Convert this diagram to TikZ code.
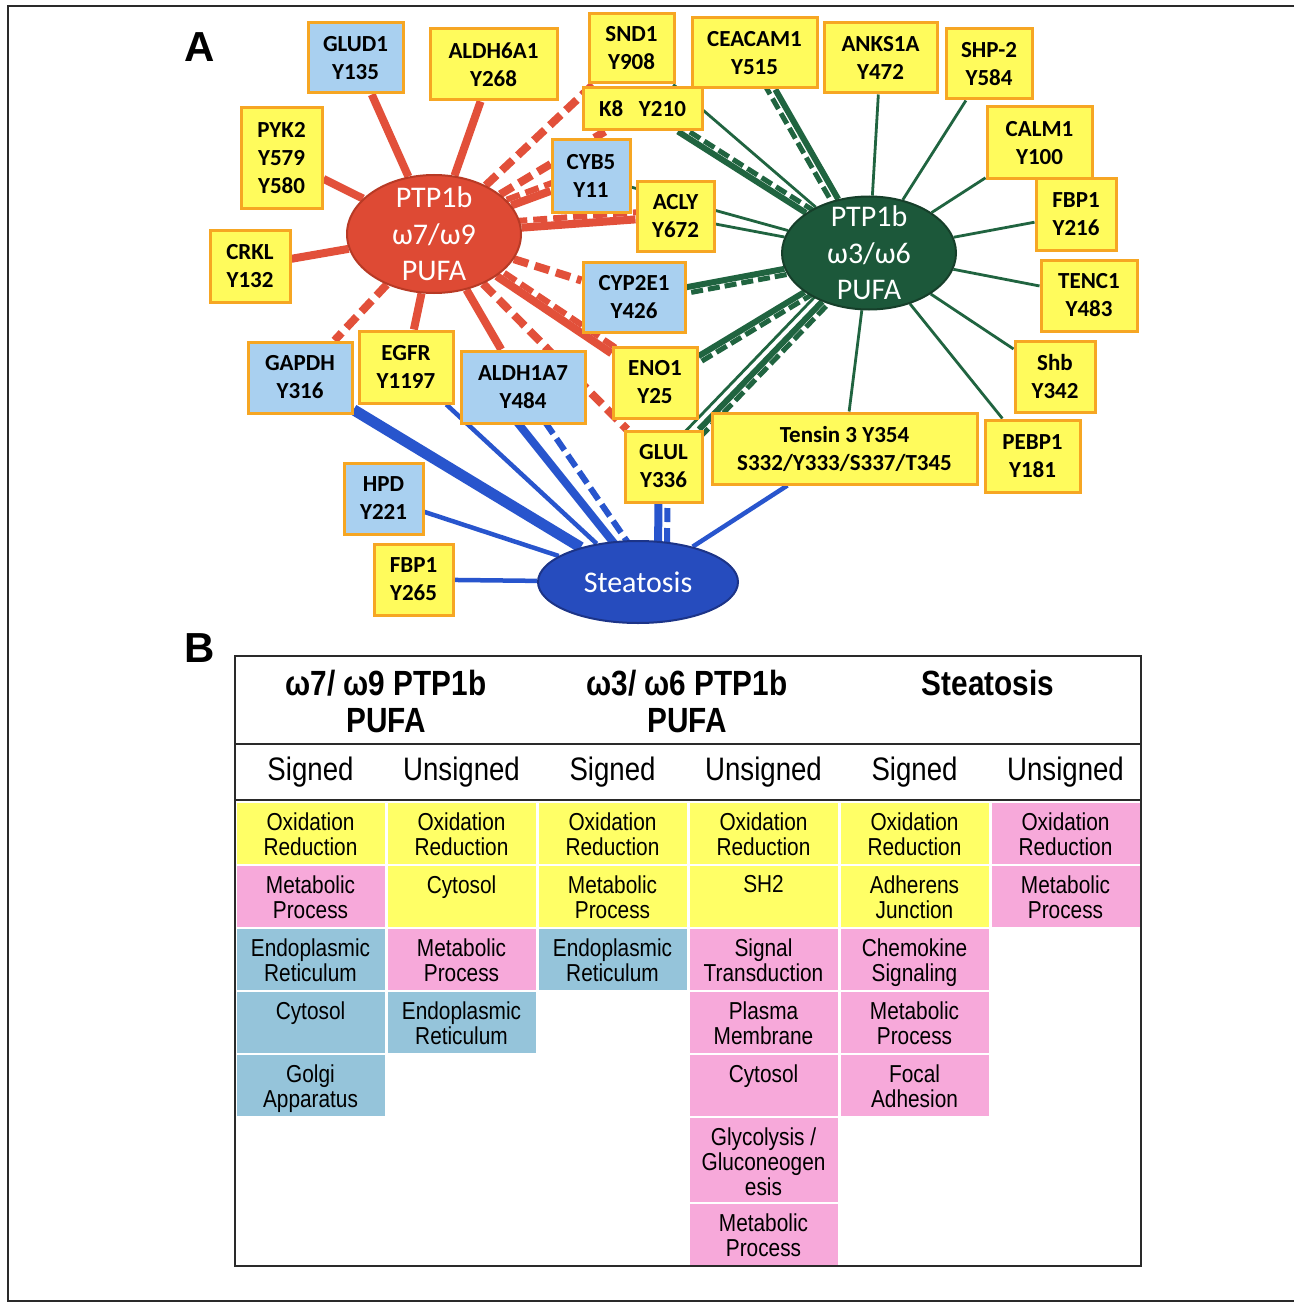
\documentclass[tikz,border=0pt]{standalone}
\usepackage{fontspec}
\setmainfont{Carlito}
\newfontfamily\tabfont[FakeStretch=0.85]{Liberation Sans}
\newfontfamily\labfont{Liberation Sans}
\usetikzlibrary{shapes.geometric,backgrounds}
\definecolor{boxY}{HTML}{FFFB5C}
\definecolor{boxB}{HTML}{A9D0F0}
\definecolor{boxO}{HTML}{F6A623}
\definecolor{redE}{HTML}{DE4A34}
\definecolor{redEd}{HTML}{B83A25}
\definecolor{redL}{HTML}{E2503A}
\definecolor{grE}{HTML}{1C583A}
\definecolor{grEd}{HTML}{163F2A}
\definecolor{grL}{HTML}{206440}
\definecolor{blE}{HTML}{264CBE}
\definecolor{blEd}{HTML}{1C3488}
\definecolor{blL}{HTML}{2855CD}
\definecolor{tY}{HTML}{FFFF66}
\definecolor{tP}{HTML}{F7A9DA}
\definecolor{tB}{HTML}{95C4DA}
\definecolor{frameC}{HTML}{2A2A2A}
\newcommand\tcell[6]{%
  \fill[#5] ({235+151*(#2-1)+1.5},{#3+1}) rectangle ({235+151*#2-1.5},{#4-1});
  \node[celltext] (#1) at ({235+151*(#2-0.5)},{#3+10.5}) {#6};}
\begin{document}
\begin{tikzpicture}[x=1pt,y=-1pt,
  box/.style={draw=boxO, line width=3pt, inner sep=0pt, align=center,
    font=\bfseries\fontsize{23}{28}\selectfont},
  ybox/.style={box, fill=boxY},
  bbox/.style={box, fill=boxB},
  sz/.style 2 args={minimum width=#1pt, minimum height=#2pt},
  hub/.style={ellipse, line width=2pt, inner sep=0pt},
  hubtext/.style={text=white, align=center, inner sep=0pt,
    font=\fontsize{30}{36.5}\selectfont},
  rsol/.style={draw=redL, line width=8pt},
  rdash/.style={draw=redL, line width=8pt, dash pattern=on 15pt off 7pt},
  rdash2/.style={draw=redL, line width=6pt, dash pattern=on 14pt off 6pt},
  gthin/.style={draw=grL, line width=2.8pt},
  gthick/.style={draw=grL, line width=6pt},
  gdash/.style={draw=grL, line width=5pt, dash pattern=on 12pt off 5pt},
  bmed/.style={draw=blL, line width=4.5pt},
  bthick/.style={draw=blL, line width=8pt},
  bvthick/.style={draw=blL, line width=11pt},
  bdash/.style={draw=blL, line width=6pt, dash pattern=on 14pt off 6pt},
  panellabel/.style={font=\labfont\bfseries\fontsize{42}{42}\selectfont, inner sep=0pt},
  celltext/.style={anchor=north, align=center, inner sep=0pt,
    font=\tabfont\fontsize{24.5}{25}\selectfont},
  headtext/.style={align=center, inner sep=0pt,
    font=\tabfont\bfseries\fontsize{35}{37}\selectfont},
  subtext/.style={anchor=base, inner sep=0pt,
    font=\tabfont\fontsize{32.5}{34}\selectfont},
  framel/.style={draw=frameC, line width=2pt},
  tablel/.style={draw=frameC, line width=2.5pt}
]
\useasboundingbox (0,0) rectangle (1294,1308);

% outer frame
\draw[framel] (1294,6) -- (8,6) -- (8,1301) -- (1294,1301);

% panel labels
\node[panellabel] (labA) at (200,47) {A};
\node[panellabel] (labB) at (200,648) {B};

% hubs
\node[hub, fill=redE, draw=redEd, minimum width=174pt, minimum height=118pt] (red) at (434,234) {};
\node[hubtext] (redtxt) at (red) {PTP1b\\ω7/ω9\\PUFA};
\node[hub, fill=grE, draw=grEd, minimum width=174pt, minimum height=113pt] (green) at (869,253) {};
\node[hubtext] (greentxt) at (green) {PTP1b\\ω3/ω6\\PUFA};
\node[hub, fill=blE, draw=blEd, minimum width=200pt, minimum height=82pt] (steat) at (638,582) {};
\node[hubtext] (steattxt) at (steat) {Steatosis};

% protein boxes
\node[bbox, sz={95}{70}]  (glud1)   at (355.5,58)   {GLUD1\\Y135};
\node[ybox, sz={127}{71}] (aldh6a1) at (493.5,64.5) {ALDH6A1\\Y268};
\node[ybox, sz={85}{69}]  (snd1)    at (631.5,48.5) {SND1\\Y908};
\node[ybox, sz={119}{42}] (k8)      at (642.5,109)  {K8\ \ \ Y210};
\node[ybox, sz={125}{70}] (ceacam1) at (754.5,53)   {CEACAM1\\Y515};
\node[ybox, sz={113}{70}] (anks1a)  at (880.5,58)   {ANKS1A\\Y472};
\node[ybox, sz={86}{70}]  (shp2)    at (989,64)     {SHP-2\\Y584};
\node[ybox, sz={81}{100}] (pyk2)    at (281.5,158)  {PYK2\\Y579\\Y580};
\node[bbox, sz={78}{72}]  (cyb5)    at (591,176)    {CYB5\\Y11};
\node[ybox, sz={77}{69}]  (acly)    at (675.5,216.5){ACLY\\Y672};
\node[ybox, sz={105}{72}] (calm1)   at (1039.5,143) {CALM1\\Y100};
\node[ybox, sz={80}{71}]  (fbp1a)   at (1076,214.5) {FBP1\\Y216};
\node[ybox, sz={80}{72}]  (crkl)    at (250,266)    {CRKL\\Y132};
\node[bbox, sz={102}{70}] (cyp2e1)  at (634,297)    {CYP2E1\\Y426};
\node[ybox, sz={96}{71}]  (tenc1)   at (1089,295.5) {TENC1\\Y483};
\node[bbox, sz={104}{71}] (gapdh)   at (300,377.5)  {GAPDH\\Y316};
\node[ybox, sz={94}{72}]  (egfr)    at (406,367)    {EGFR\\Y1197};
\node[bbox, sz={124}{72}] (aldh1a7) at (523,387)    {ALDH1A7\\Y484};
\node[ybox, sz={84}{71}]  (eno1)    at (655,382.5)  {ENO1\\Y25};
\node[ybox, sz={80}{71}]  (shb)     at (1055,376.5) {Shb\\Y342};
\node[ybox, sz={77}{71}]  (glul)    at (663.5,466.5){GLUL\\Y336};
\node[ybox, sz={265}{71}] (tensin)  at (844.5,448.5){Tensin 3 Y354\\S332/Y333/S337/T345};
\node[ybox, sz={95}{72}]  (pebp1)   at (1032.5,456) {PEBP1\\Y181};
\node[bbox, sz={79}{71}]  (hpd)     at (383.5,498.5){HPD\\Y221};
\node[ybox, sz={79}{71}]  (fbp1b)   at (413.5,579.5){FBP1\\Y265};

\begin{pgfonlayer}{background}
\fill[white] (0,0) rectangle (1294,1308);
% red hub edges
\draw[rsol] (red) -- (glud1);
\draw[rsol] (red) -- (aldh6a1);
\draw[rsol] (red) -- (pyk2);
\draw[rsol] (red) -- (crkl);
\draw[rdash] (red) -- (snd1);
\draw[rdash] (red) -- (k8);
\draw[rsol] (red) -- (cyb5);
\draw[rdash2] ([shift={(-2.4,-6.6)}]red.center) -- ([shift={(-2.4,-6.6)}]cyb5.center);
\draw[rsol] (red) -- (acly);
\draw[rdash2] ([shift={(-0.5,-7)}]red.center) -- ([shift={(-0.5,-7)}]acly.center);
\draw[rdash] (red) -- (cyp2e1);
\draw[rsol] (red) -- (eno1);
\draw[rdash2] ([shift={(3.9,-5.8)}]red.center) -- ([shift={(3.9,-5.8)}]eno1.center);
\draw[rdash] (red) -- (glul);
\draw[rsol] (red) -- (aldh1a7);
\draw[rsol] (red) -- (egfr);
\draw[rdash] (red) -- (gapdh);
% green hub edges
\draw[gthin] (green) -- (snd1);
\draw[gthick] (green) -- (k8);
\draw[gdash] ([shift={(3.2,-5.1)}]green.center) -- ([shift={(3.2,-5.1)}]k8.center);
\draw[gthick] (green) -- (ceacam1);
\draw[gdash] ([shift={(-6.1,3.5)}]green.center) -- ([shift={(-6.1,3.5)}]ceacam1.center);
\draw[gthin] (green) -- (anks1a);
\draw[gthin] (green) -- (shp2);
\draw[gthin] (green) -- (calm1);
\draw[gthin] (green) -- (fbp1a);
\draw[gthin] (green) -- (tenc1);
\draw[gthin] (green) -- (shb);
\draw[gthin] (green) -- (pebp1);
\draw[gthin] (green) -- (tensin);
\draw[gthin] (green) -- (acly);
\draw[gthin] (green) -- (cyb5);
\draw[gthick] (green) -- (cyp2e1);
\draw[gdash] ([shift={(1.1,5.9)}]green.center) -- ([shift={(1.1,5.9)}]cyp2e1.center);
\draw[gthick] (green) -- (eno1);
\draw[gdash] ([shift={(3.1,5.1)}]green.center) -- ([shift={(3.1,5.1)}]eno1.center);
\draw[gthin] ([shift={(-6.2,-6)}]green.center) -- ([shift={(-6.2,-6)}]glul.center);
\draw[gthick] (green) -- (glul);
\draw[gdash] ([shift={(4.3,4.2)}]green.center) -- ([shift={(4.3,4.2)}]glul.center);
% steatosis edges
\draw[bvthick] (steat) -- (gapdh);
\draw[bmed] (steat) -- (egfr);
\draw[bthick] ([xshift=7pt]steat.center) -- ([xshift=-34pt]aldh1a7.center);
\draw[bdash] ([xshift=17pt]steat.center) -- ([xshift=-2pt]aldh1a7.center);
\draw[bthick] ([xshift=20pt]steat.center) -- ([xshift=-5pt]glul.center);
\draw[bdash] ([xshift=29pt]steat.center) -- ([xshift=4pt]glul.center);
\draw[bmed] (steat) -- (tensin);
\draw[bmed] (steat) -- (hpd);
\draw[bmed] (steat) -- (fbp1b);
\end{pgfonlayer}

% ---------- panel B table ----------
\tcell{a1}{1}{802}{865}{tY}{Oxidation\\Reduction}
\tcell{a2}{1}{865}{928}{tP}{Metabolic\\Process}
\tcell{a3}{1}{928}{991}{tB}{Endoplasmic\\Reticulum}
\tcell{a4}{1}{991}{1054}{tB}{Cytosol}
\tcell{a5}{1}{1054}{1117}{tB}{Golgi\\Apparatus}
\tcell{b1}{2}{802}{865}{tY}{Oxidation\\Reduction}
\tcell{b2}{2}{865}{928}{tY}{Cytosol}
\tcell{b3}{2}{928}{991}{tP}{Metabolic\\Process}
\tcell{b4}{2}{991}{1054}{tB}{Endoplasmic\\Reticulum}
\tcell{c1}{3}{802}{865}{tY}{Oxidation\\Reduction}
\tcell{c2}{3}{865}{928}{tY}{Metabolic\\Process}
\tcell{c3}{3}{928}{991}{tB}{Endoplasmic\\Reticulum}
\tcell{d1}{4}{802}{865}{tY}{Oxidation\\Reduction}
\tcell{d2}{4}{865}{928}{tY}{SH2}
\tcell{d3}{4}{928}{991}{tP}{Signal\\Transduction}
\tcell{d4}{4}{991}{1054}{tP}{Plasma\\Membrane}
\tcell{d5}{4}{1054}{1117}{tP}{Cytosol}
\tcell{d6}{4}{1117}{1203}{tP}{Glycolysis /\\Gluconeogen\\esis}
\tcell{d7}{4}{1203}{1266}{tP}{Metabolic\\Process}
\tcell{e1}{5}{802}{865}{tY}{Oxidation\\Reduction}
\tcell{e2}{5}{865}{928}{tY}{Adherens\\Junction}
\tcell{e3}{5}{928}{991}{tP}{Chemokine\\Signaling}
\tcell{e4}{5}{991}{1054}{tP}{Metabolic\\Process}
\tcell{e5}{5}{1054}{1117}{tP}{Focal\\Adhesion}
\tcell{f1}{6}{802}{865}{tP}{Oxidation\\Reduction}
\tcell{f2}{6}{865}{928}{tP}{Metabolic\\Process}

\node[headtext] (h1) at (386,701.5) {ω7/ ω9 PTP1b\\PUFA};
\node[headtext] (h2) at (687,701.5) {ω3/ ω6 PTP1b\\PUFA};
\node[headtext] (h3) at (988,683) {Steatosis};
\node[subtext] (s1) at (310.5,780) {Signed};
\node[subtext] (s2) at (461.5,780) {Unsigned};
\node[subtext] (s3) at (612.5,780) {Signed};
\node[subtext] (s4) at (763.5,780) {Unsigned};
\node[subtext] (s5) at (914.5,780) {Signed};
\node[subtext] (s6) at (1065.5,780) {Unsigned};

\draw[tablel] (235,656) rectangle (1141,1266);
\draw[tablel] (235,744) -- (1141,744);
\draw[tablel] (235,800) -- (1141,800);
\end{tikzpicture}
\end{document}
